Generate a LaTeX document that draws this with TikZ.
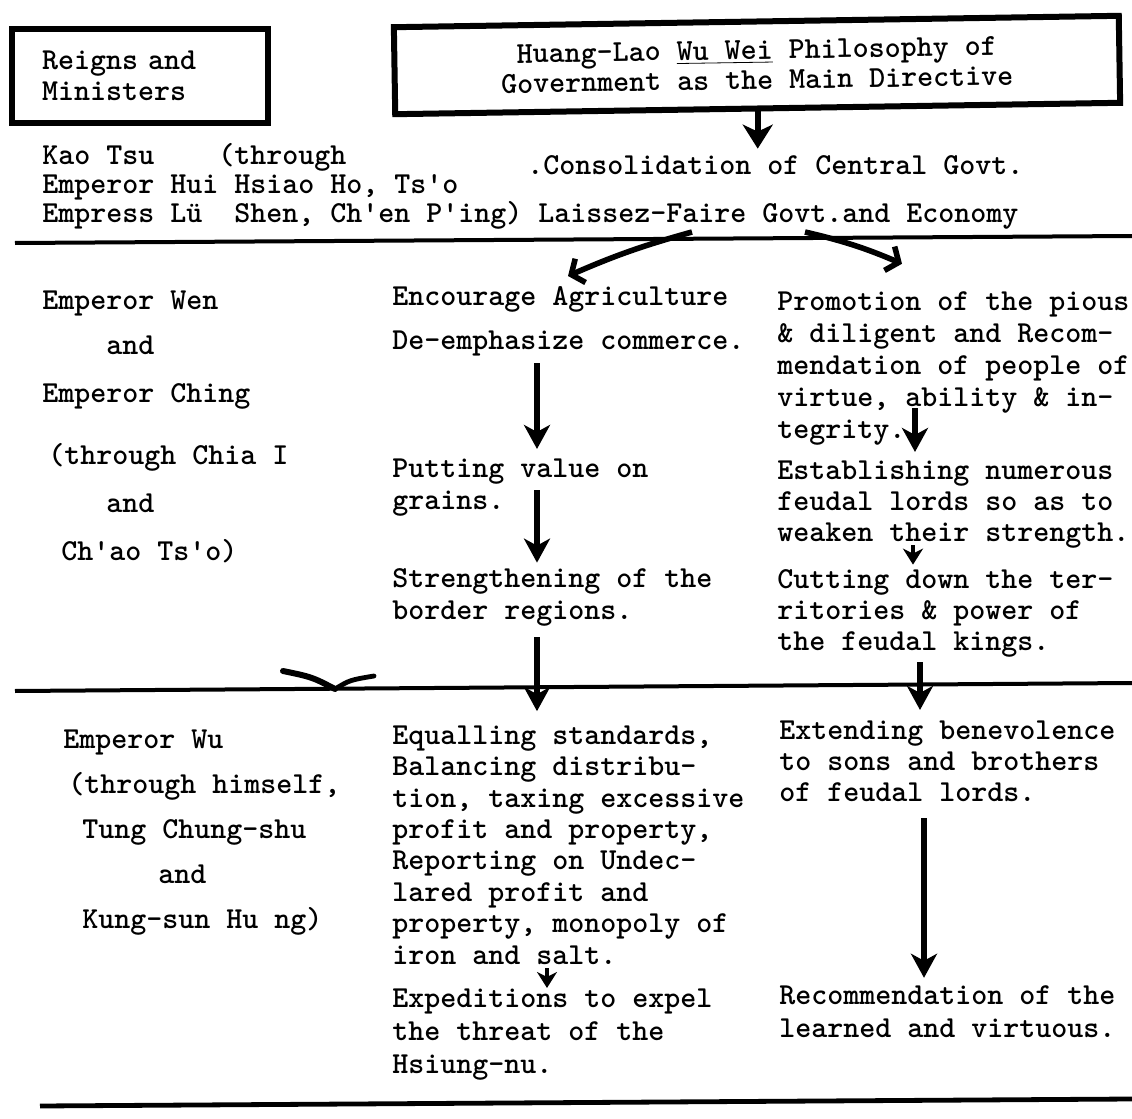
\documentclass[tikz,border=0pt]{standalone}
\usetikzlibrary{arrows.meta,calc}
\newcommand\twf[1]{\fontsize{15.24pt}{#1}\ttfamily\fontseries{b}\selectfont\frenchspacing}
\newcommand\twq{\textquotesingle}
\begin{document}
\begin{tikzpicture}[x=0.5pt,y=-0.5pt,
  tw/.style={font=\twf{15.7pt}, inner sep=0pt, anchor=base west, align=left},
  boxst/.style={draw, line width=3pt},
  sep/.style={line width=2pt},
  varr/.style={line width=2.6pt, -{Stealth[length=12pt,width=13pt,inset=3.5pt]}},
  sarr/.style={line width=2.4pt, -{Stealth[length=8pt,width=10pt,inset=2.5pt]}},
  bigarr/.style={line width=2.8pt, -{Stealth[length=12pt,width=15pt,inset=3.5pt]}},
  carr/.style={line width=2.8pt, -{Straight Barb[length=5pt,width=13pt]}}]
\fill[white] (0,0) rectangle (1132,1119);
\useasboundingbox (0,0) rectangle (1132,1119);

% header boxes
\node[boxst, minimum width=128pt, minimum height=47pt, inner xsep=15pt, text width=98pt,
      align=left, font=\twf{15.5pt}] (box1) at (140,76) {Reigns and\\Ministers};
\node[boxst, minimum width=362.5pt, minimum height=43.5pt, rotate=0.9,
      align=center, font=\twf{15pt}] (box2) at (757,65)
      {Huang-Lao \underline{Wu Wei} Philosophy of\\Government as the Main Directive};

% row 1 (multi-line nodes are placed by the baseline of their last line)
\node[tw, font=\twf{14.5pt}] (kao) at (42,222)
  {Kao~Tsu~~~~(through\\Emperor~Hui~Hsiao~Ho,~Ts\twq o\\Empress~Lü~~Shen,~Ch\twq en~P\twq ing)};
\node[tw] (cons) at (527,174) {.Consolidation of Central Govt.};
\node[tw] (lais) at (538,222) {Laissez-Faire Govt.and Economy};

% separators
\draw[sep] (15,243) -- (1132,236);
\draw[sep] (15,691) -- (1132,683);
\draw[line width=2.4pt] (40,1106) -- (1132,1099);

% row 2 left
\node[tw] (wen)   at (42,309)  {Emperor Wen};
\node[tw] (and1)  at (106,354) {and};
\node[tw] (ching) at (42,402)  {Emperor Ching};
\node[tw] (chia)  at (48,464)  {(through Chia I};
\node[tw] (and2)  at (106,512) {and};
\node[tw] (chao)  at (61,560)  {Ch\twq ao Ts\twq o)};

% row 2 middle
\node[tw] (enc) at (392,305) {Encourage Agriculture};
\node[tw] (dem) at (392,349) {De-emphasize commerce.};
\node[tw, font=\twf{16pt}] (put) at (392,509) {Putting value on\\grains.};
\node[tw, font=\twf{16pt}] (str) at (392,619) {Strengthening of the\\border regions.};

% row 2 right
\node[tw, font=\twf{16pt}] (prom) at (777,438)
  {Promotion of the pious\\\& diligent and Recom-\\mendation of people of\\virtue, ability \& in-\\tegrity.};
\node[tw, font=\twf{15.5pt}] (est) at (777,541)
  {Establishing numerous\\feudal lords so as to\\weaken their strength.};
\node[tw, font=\twf{15.5pt}] (cut) at (777,650)
  {Cutting down the ter-\\ritories \& power of\\the feudal kings.};

% row 3 left
\node[tw] (wu)   at (63,748)  {Emperor Wu};
\node[tw] (him)  at (68,793)  {(through himself,};
\node[tw] (tung) at (82,838)  {Tung Chung-shu};
\node[tw] (and3) at (158,883) {and};
\node[tw] (kung) at (82,928)  {Kung-sun Hu ng)};

% row 3 middle / right
\node[tw] (equ) at (392,964)
  {Equalling standards,\\Balancing distribu-\\tion, taxing excessive\\profit and property,\\Reporting on Undec-\\lared profit and\\property, monopoly of\\iron and salt.};
\node[tw, font=\twf{16.5pt}] (exp) at (392,1073)
  {Expeditions to expel\\the threat of the\\Hsiung-nu.};
\node[tw, font=\twf{15.5pt}] (ext) at (779,801)
  {Extending benevolence\\to sons and brothers\\of feudal lords.};
\node[tw, font=\twf{16.5pt}] (rec) at (779,1037)
  {Recommendation of the\\learned and virtuous.};

% connectors
\draw[bigarr] (box2.south) -- ($(box2.south |- cons.north)+(0,-6)$);
\draw[carr] ($(lais.base west)+(154,10)$) to[bend right=4] ($(enc.base west)+(176,-29)$);
\draw[carr] ($(lais.base west)+(267,10)$) to[bend left=5] ($(prom.north west)+(125,-27)$);

\draw[varr] ($(dem.base west)+(145,14)$) -- ($(put.north west)+(145,-9)$);
\draw[varr] ($(put.base west)+(145,-19)$) -- ($(str.north west)+(145,-5)$);
\draw[varr] ($(str.base west)+(145,18)$) -- ($(equ.north west)+(145,-14)$);
\draw[sarr] ($(equ.base west)+(155,4)$) -- ($(exp.north west)+(155,0)$);

\draw[varr] ($(prom.base west)+(138,-30)$) -- ($(est.north west)+(138,-8)$);
\draw[sarr] ($(est.base west)+(136,4)$) -- ($(cut.north west)+(136,-4)$);
\draw[varr] ($(cut.base west)+(143,12)$) -- ($(ext.north west)+(141,-10)$);
\draw[varr] ($(ext.base west)+(145,17)$) -- ($(rec.north west)+(145,-7)$);

% hand-drawn mark on the second separator
\draw[line width=3pt, line cap=round] (283,671) .. controls (312,677) .. (335,689);
\draw[line width=2.4pt, line cap=round] (335,689) .. controls (350,680) .. (374,676);
\end{tikzpicture}
\end{document}
